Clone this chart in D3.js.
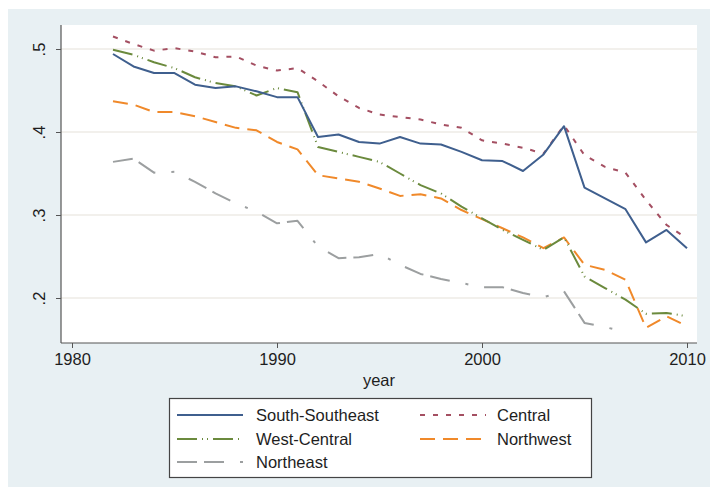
<!DOCTYPE html>
<html>
<head>
<meta charset="utf-8">
<script src="https://cdn.jsdelivr.net/npm/d3@7/dist/d3.min.js"></script>
<style>
  html, body { margin: 0; padding: 0; background: #ffffff; }
  svg { display: block; font-family: "Liberation Sans", Arial, Helvetica, sans-serif; }
</style>
</head>
<body>
<svg id="chart" width="712" height="495"></svg>
<script>
const years = [1982,1983,1984,1985,1986,1987,1988,1989,1990,1991,1992,1993,1994,1995,1996,1997,1998,1999,2000,2001,2002,2003,2004,2005,2006,2007,2008,2009,2010];
const southSoutheast = [.494,.479,.471,.471,.457,.453,.455,.449,.442,.442,.394,.397,.388,.386,.394,.386,.385,.376,.366,.365,.353,.373,.407,.333,.320,.307,.267,.282,.260];
const central = [.515,.506,.498,.501,.497,.490,.491,.480,.474,.477,.461,.443,.429,.421,.418,.415,.409,.405,.390,.386,.381,.374,.408,.372,.358,.351,.318,.288,.272];
const westCentral = [.499,.493,.484,.477,.466,.459,.455,.444,.453,.448,.382,.376,.370,.364,.350,.336,.326,.310,.296,.282,.270,.258,.273,.226,.212,.198,.181,.182,.178];
const northwest = [.437,.433,.424,.424,.419,.412,.405,.402,.388,.379,.348,.344,.340,.332,.323,.325,.320,.306,.295,.284,.273,.260,.273,.240,.234,.222,.164,.178,.166];
const northeast = [.364,.368,.351,.352,.340,.326,.314,.304,.290,.293,.262,.248,.249,.253,.240,.229,.223,.218,.213,.213,.206,.201,.208,.170,.165,.159];
const seriesNames = ["South-Southeast","Central","West-Central","Northwest","Northeast"];
const xTicks = [1980,1990,2000,2010];
const yTicks = [0.2,0.3,0.4,0.5];
const yTickLabels = [".2",".3",".4",".5"];
const xTitle = "year";

const seriesValues = [southSoutheast, central, westCentral, northwest, northeast];
const colors = ["#3f5f8e","#a44f62","#6b8a3d","#f0892a","#9c9fa0"];
const dashes = [null, "5,8", "20,5,1,4,1,5", "15,8", "20,7,20,16,3,16"];

const svg = d3.select("#chart");

// graph region
svg.append("rect").attr("x",8).attr("y",9).attr("width",702).attr("height",478).attr("fill","#e8f0f3");
// plot region
svg.append("rect").attr("x",61).attr("y",25).attr("width",636).attr("height",318).attr("fill","#ffffff");

const x = d3.scaleLinear().domain([1980,2010]).range([72,687]);
const y = d3.scaleLinear().domain([0.2,0.5]).range([298,49]);

// gridlines
svg.append("g").selectAll("line").data(yTicks).join("line")
  .attr("x1",61).attr("x2",697)
  .attr("y1",d=>y(d)).attr("y2",d=>y(d))
  .attr("stroke","#eeebe6").attr("stroke-width",1.3);

// axes
const yAxis = d3.axisLeft(y).tickValues(yTicks).tickSize(5).tickFormat((d,i)=>yTickLabels[i]);
const gy = svg.append("g").attr("transform","translate(61,0)").call(yAxis);
gy.select(".domain").remove();
gy.selectAll(".tick line").attr("stroke","#555");
gy.selectAll(".tick text")
  .attr("x",0).attr("y",0).attr("dy",null)
  .attr("transform","translate(-16,0) rotate(-90)")
  .attr("text-anchor","middle")
  .attr("font-size",16.5).attr("fill","#1e1e1e");
svg.append("line").attr("x1",61).attr("x2",61).attr("y1",25).attr("y2",343).attr("stroke","#555").attr("stroke-width",1.2);

const xAxis = d3.axisBottom(x).tickValues(xTicks).tickSize(5).tickFormat(d3.format("d"));
const gx = svg.append("g").attr("transform","translate(0,343)").call(xAxis);
gx.select(".domain").remove();
gx.selectAll(".tick line").attr("stroke","#555");
gx.selectAll(".tick text").attr("y",22).attr("dy",null).attr("font-size",16.5).attr("fill","#1e1e1e");
svg.append("line").attr("x1",61).attr("x2",697).attr("y1",343).attr("y2",343).attr("stroke","#555").attr("stroke-width",1.2);

svg.append("text").attr("x",379).attr("y",386).attr("text-anchor","middle")
  .attr("font-size",16.5).attr("fill","#1e1e1e").text(xTitle);

// lines
const line = d3.line().x(d=>x(d[0])).y(d=>y(d[1]));
const drawOrder = [4,3,2,1,0];
drawOrder.forEach(i => {
  const pts = seriesValues[i].map((v,k)=>[years[k], v]);
  svg.append("path").datum(pts)
    .attr("d",line).attr("fill","none")
    .attr("stroke",colors[i]).attr("stroke-width",2)
    .attr("stroke-linejoin","round")
    .attr("stroke-dasharray",dashes[i]);
});

// legend
const lg = svg.append("g");
lg.append("rect").attr("x",169.5).attr("y",398.5).attr("width",422).attr("height",79)
  .attr("fill","#ffffff").attr("stroke","#444").attr("stroke-width",1.2);
const legPos = [[177,415],[420,415],[177,439],[420,439],[177,462]];
seriesNames.forEach((name,i) => {
  const [lx,ly] = legPos[i];
  lg.append("line").attr("x1",lx).attr("x2",lx+66).attr("y1",ly).attr("y2",ly)
    .attr("stroke",colors[i]).attr("stroke-width",2).attr("stroke-dasharray",dashes[i]);
  lg.append("text").attr("x",lx + (i%2===0 ? 79 : 77)).attr("y",ly+6)
    .attr("font-size",16.5).attr("fill","#1e1e1e").text(name);
});
</script>
</body>
</html>
